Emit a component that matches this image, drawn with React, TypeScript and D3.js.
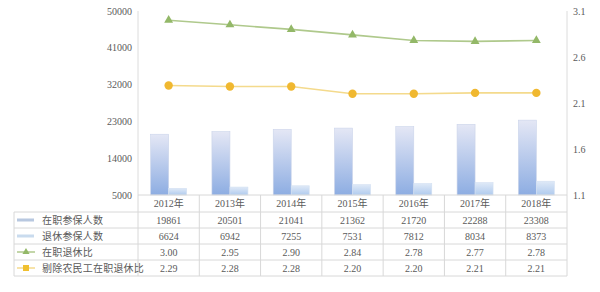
import React from "react";
import * as d3 from "d3";

const years = ["2012年", "2013年", "2014年", "2015年", "2016年", "2017年", "2018年"];
const employed = [19861, 20501, 21041, 21362, 21720, 22288, 23308];
const retired = [6624, 6942, 7255, 7531, 7812, 8034, 8373];
const ratio = [3.0, 2.95, 2.9, 2.84, 2.78, 2.77, 2.78];
const ratioExcl = [2.29, 2.28, 2.28, 2.2, 2.2, 2.21, 2.21];
const leftTicks = [5000, 14000, 23000, 32000, 41000, 50000];
const rightTicks = [1.1, 1.6, 2.1, 2.6, 3.1];
const seriesNames = ["在职参保人数", "退休参保人数", "在职退休比", "剔除农民工在职退休比"];

const W = 600, H = 292;
const X0 = 138, X1 = 567, Y0 = 195, Y1 = 11;
const font = "'Liberation Serif', 'Noto Sans CJK SC', serif";
const textColor = "#5a5a5a";

export default function App() {
  const x = d3.scaleBand<string>().domain(years).range([X0, X1]);
  const yL = d3.scaleLinear().domain([5000, 50000]).range([Y0, Y1]);
  const yR = d3.scaleLinear().domain([1.1, 3.1]).range([Y0, Y1]);
  const bw = 18;
  const cx = (i: number) => (x(years[i]) as number) + x.bandwidth() / 2;
  const line = d3.line<number>().x((_, i) => cx(i)).y((d) => yR(d));

  const rowTop = 212, rowH = 16;
  const tableRows = [
    employed.map((v) => String(v)),
    retired.map((v) => String(v)),
    ratio.map((v) => v.toFixed(2)),
    ratioExcl.map((v) => v.toFixed(2)),
  ];
  const tableBottom = rowTop + rowH * 4;

  return (
    <svg width={W} height={H} style={{ display: "block", position: "absolute", left: 0, top: 0, background: "#fff" }}>
      <defs>
        <linearGradient id="gEmp" x1="0" y1="0" x2="0" y2="1">
          <stop offset="0" stopColor="#e4e7f5" />
          <stop offset="1" stopColor="#8dade2" />
        </linearGradient>
        <linearGradient id="gRet" x1="0" y1="0" x2="0" y2="1">
          <stop offset="0" stopColor="#dfe9f7" />
          <stop offset="1" stopColor="#b0cbee" />
        </linearGradient>
      </defs>
      <rect x={0} y={0} width={W} height={H} fill="#fff" />

      <line x1={X0} x2={X0} y1={Y1} y2={Y0} stroke="#dcdcdc" />
      <line x1={X1} x2={X1} y1={Y1} y2={Y0} stroke="#dcdcdc" />

      {leftTicks.map((t) => (
        <text key={t} x={132} y={yL(t)} dy="0.35em" textAnchor="end" fontSize={10} fontFamily={font} fill={textColor}>
          {t}
        </text>
      ))}
      {rightTicks.map((t) => (
        <text key={t} x={573} y={yR(t)} dy="0.35em" textAnchor="start" fontSize={10} fontFamily={font} fill={textColor}>
          {t.toFixed(1)}
        </text>
      ))}

      {employed.map((v, i) => (
        <rect key={"e" + i} x={cx(i) - bw} y={yL(v)} width={bw} height={Y0 - yL(v)} fill="url(#gEmp)" stroke="#cbd4ea" strokeWidth={0.6} />
      ))}
      {retired.map((v, i) => (
        <rect key={"r" + i} x={cx(i)} y={yL(v)} width={bw} height={Y0 - yL(v)} fill="url(#gRet)" stroke="#d3e0f2" strokeWidth={0.6} />
      ))}

      <path d={line(ratio) as string} fill="none" stroke="#afc98c" strokeWidth={1.6} />
      <path d={line(ratioExcl) as string} fill="none" stroke="#f4da8c" strokeWidth={1.6} />
      {ratio.map((v, i) => (
        <path key={"g" + i} d={d3.symbol(d3.symbolTriangle, 34)() as string} transform={`translate(${cx(i)},${yR(v)})`} fill="#93b868" />
      ))}
      {ratioExcl.map((v, i) => (
        <circle key={"y" + i} cx={cx(i)} cy={yR(v)} r={4.2} fill="#f0b830" />
      ))}

      <g stroke="#d8d8d8" strokeWidth={1} fill="none">
        <line x1={X0} x2={X1} y1={Y0} y2={Y0} />
        {d3.range(5).map((k) => (
          <line key={"h" + k} x1={14} x2={X1} y1={rowTop + k * rowH} y2={rowTop + k * rowH} />
        ))}
        <line x1={14} x2={14} y1={rowTop} y2={tableBottom} />
        {d3.range(8).map((k) => (
          <line key={"v" + k} x1={X0 + k * x.bandwidth()} x2={X0 + k * x.bandwidth()} y1={Y0} y2={tableBottom} />
        ))}
      </g>
      {years.map((yr, i) => (
        <text key={yr} x={cx(i)} y={Y0 + 8.5} dy="0.35em" textAnchor="middle" fontSize={10} fontFamily={font} fill={textColor}>
          {yr}
        </text>
      ))}
      {tableRows.map((row, r) =>
        row.map((val, i) => (
          <text key={r + "-" + i} x={cx(i)} y={rowTop + r * rowH + rowH / 2} dy="0.35em" textAnchor="middle" fontSize={10} fontFamily={font} fill={textColor}>
            {val}
          </text>
        ))
      )}

      {seriesNames.map((name, r) => {
        const yy = rowTop + r * rowH + rowH / 2;
        return (
          <g key={name}>
            {r === 0 && <rect x={17} y={yy - 1.5} width={17} height={3} fill="#b8c8e0" />}
            {r === 1 && <rect x={17} y={yy - 1.5} width={17} height={3} fill="#c9dbee" />}
            {r === 2 && (
              <g>
                <line x1={17} x2={35} y1={yy} y2={yy} stroke="#afc98c" strokeWidth={1.5} />
                <path d={d3.symbol(d3.symbolTriangle, 22)() as string} transform={`translate(26,${yy})`} fill="#93b868" />
              </g>
            )}
            {r === 3 && (
              <g>
                <line x1={17} x2={35} y1={yy} y2={yy} stroke="#f4da8c" strokeWidth={1.5} />
                <rect x={23} y={yy - 3} width={6} height={6} fill="#f0c030" />
              </g>
            )}
            <text x={42} y={yy} dy="0.35em" fontSize={10} fontFamily={font} fill={textColor} letterSpacing={0.2}>
              {name}
            </text>
          </g>
        );
      })}
    </svg>
  );
}
